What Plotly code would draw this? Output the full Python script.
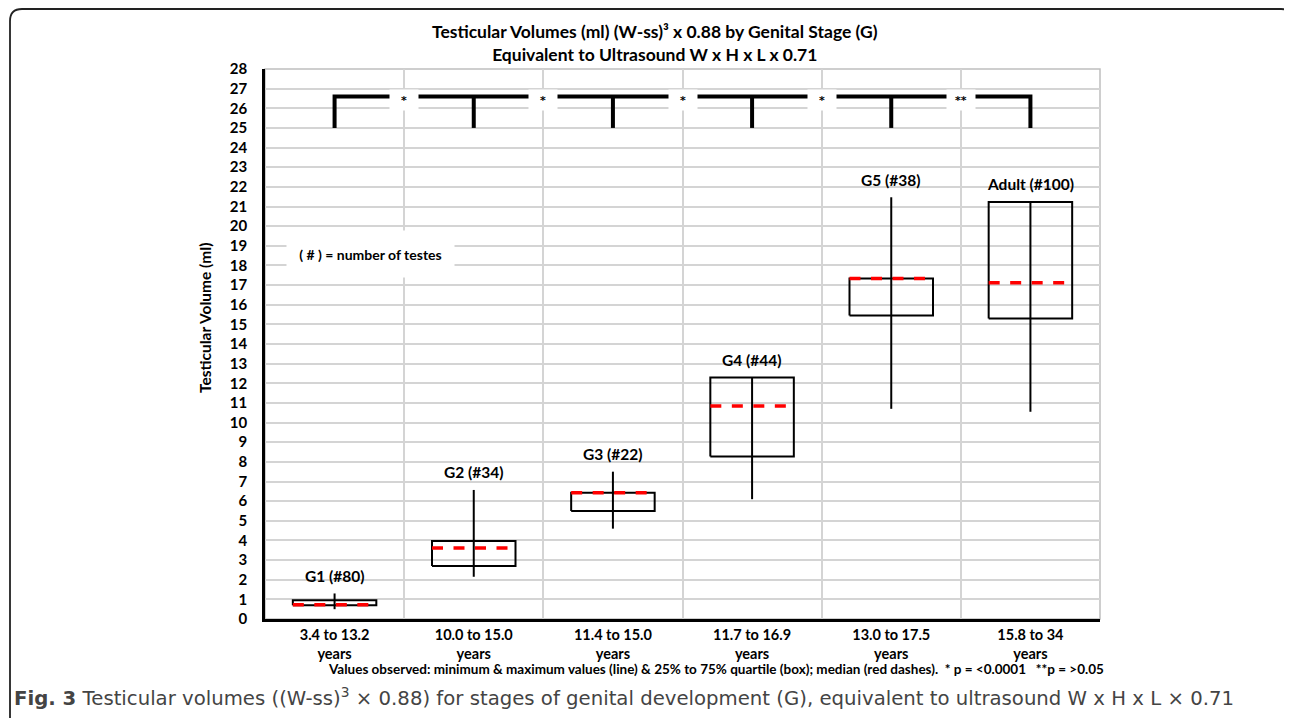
import plotly.graph_objects as go

# ---------------- data ----------------
categories = ["3.4 to 13.2<br>years", "10.0 to 15.0<br>years", "11.4 to 15.0<br>years",
              "11.7 to 16.9<br>years", "13.0 to 17.5<br>years", "15.8 to 34<br>years"]
stage_labels = ["G1 (#80)", "G2 (#34)", "G3 (#22)", "G4 (#44)", "G5 (#38)", "Adult (#100)"]
vol_min = [0.5, 2.15, 4.6, 6.1, 10.7, 10.55]
vol_q1 = [0.7, 2.7, 5.5, 8.27, 15.45, 15.3]
vol_median = [0.72, 3.62, 6.43, 10.85, 17.33, 17.12]
vol_q3 = [0.95, 3.97, 6.43, 12.3, 17.33, 21.23]
vol_max = [1.3, 6.57, 7.5, 12.3, 21.47, 21.23]
sig_labels = ["*", "*", "*", "*", "**"]
y_ticks = list(range(0, 29))

# ---------------- layout constants ----------------
OFF = 8                      # page body margin
W, H = 1292 - OFF, 718 - OFF
PLOT_L, PLOT_R, PLOT_T, PLOT_B = 265, 1100, 69, 619   # target pixels in the window
ML, MT = PLOT_L - OFF, PLOT_T - OFF
MR = W - (PLOT_R - OFF)
MB = H - (PLOT_B - OFF)
PW, PH = PLOT_R - PLOT_L, PLOT_B - PLOT_T
BOLD = "Lato"
HALF = 0.3  # half box width in category units


def px2x(p):
    return (p - PLOT_L) / PW


def py2y(p):
    return (PLOT_B - p) / PH


n = len(categories)
xs = list(range(n))

fig = go.Figure()

# boxes (quartiles)
bx, by = [], []
for i in xs:
    bx += [i - HALF, i + HALF, i + HALF, i - HALF, i - HALF, None]
    by += [vol_q1[i], vol_q1[i], vol_q3[i], vol_q3[i], vol_q1[i], None]
fig.add_trace(go.Scatter(x=bx, y=by, mode="lines", line=dict(color="black", width=2),
                         hoverinfo="skip"))

# whiskers (min-max line)
wx, wy = [], []
for i in xs:
    wx += [i, i, None]
    wy += [vol_min[i], vol_max[i], None]
fig.add_trace(go.Scatter(x=wx, y=wy, mode="lines", line=dict(color="black", width=2),
                         hoverinfo="skip"))

# medians (red dashes)
mx, my = [], []
for i in xs:
    mx += [i - HALF, i + HALF, None]
    my += [vol_median[i], vol_median[i], None]
fig.add_trace(go.Scatter(x=mx, y=my, mode="lines",
                         line=dict(color="#ff0000", width=3.5, dash="11px,10.5px"),
                         hoverinfo="skip"))

# significance bracket
B_LOW, B_TOP = 25, 26.6
sx = [xs[0], xs[0], xs[-1], xs[-1], None]
sy = [B_LOW, B_TOP, B_TOP, B_LOW, None]
for i in xs[1:-1]:
    sx += [i, i, None]
    sy += [B_LOW, B_TOP, None]
fig.add_trace(go.Scatter(x=sx, y=sy, mode="lines", line=dict(color="black", width=4),
                         hoverinfo="skip"))

annotations = []
for i, s in enumerate(sig_labels):
    annotations.append(dict(x=i + 0.5, y=B_TOP, xref="x", yref="y", text=s, showarrow=False,
                            xanchor="center", yanchor="middle", yshift=-3,
                            bgcolor="white", width=26, height=18,
                            font=dict(family="DejaVu Sans", size=11, color="black", weight="bold")))

for i, lab in enumerate(stage_labels):
    annotations.append(dict(x=i, y=vol_max[i] + 0.9, xref="x", yref="y", text=lab,
                            showarrow=False, xanchor="center", yanchor="middle",
                            font=dict(family=BOLD, size=15.5, color="black", weight="bold")))

# legend note inside plot
annotations.append(dict(x=px2x(370), y=py2y(254), xref="paper", yref="paper",
                        xanchor="center", yanchor="middle",
                        text="( # ) = number of testes", showarrow=False,
                        bgcolor="white", width=165, height=44,
                        font=dict(family=BOLD, size=14, color="black", weight="bold")))

# title
annotations.append(dict(x=px2x(655), y=py2y(43), xref="paper", yref="paper",
                        xanchor="center", yanchor="middle",
                        text="Testicular Volumes (ml) (W-ss)³ x 0.88 by Genital Stage (G)<br>"
                             "Equivalent to Ultrasound W x H x L x 0.71",
                        showarrow=False, align="center",
                        font=dict(family=BOLD, size=17.5, color="black", weight="bold")))

# y-axis title
annotations.append(dict(x=px2x(205), y=py2y(318), xref="paper", yref="paper",
                        xanchor="center", yanchor="middle",
                        text="Testicular Volume (ml)", textangle=-90, showarrow=False,
                        font=dict(family=BOLD, size=15.5, color="black", weight="bold")))

# footnote
annotations.append(dict(x=px2x(716), y=py2y(669), xref="paper", yref="paper",
                        xanchor="center", yanchor="middle",
                        text="Values observed: minimum & maximum values (line) & 25% to 75% quartile (box); "
                             "median (red dashes).  * p = <0.0001   **p = >0.05",
                        showarrow=False,
                        font=dict(family=BOLD, size=13.5, color="black", weight="bold")))

# caption
annotations.append(dict(x=px2x(12), y=py2y(697), xref="paper", yref="paper",
                        xanchor="left", yanchor="middle",
                        text="<b>Fig. 3</b> Testicular volumes ((W-ss)<sup>3</sup> × 0.88) for stages of "
                             "genital development (G), equivalent to ultrasound W x H x L × 0.71",
                        showarrow=False,
                        font=dict(family="DejaVu Sans", size=19.7, color="#444444")))

shapes = []
# gray plot border (top/right)
shapes.append(dict(type="rect", xref="paper", yref="paper", x0=0, x1=1, y0=0, y1=1,
                   line=dict(color="#bfbfbf", width=1.5), layer="below"))
# outer rounded frame (open at the bottom, right side beyond the window)
r = 12
top = 9
path = (f"M {px2x(10)} {py2y(730)} L {px2x(10)} {py2y(top + r)} "
        f"Q {px2x(10)} {py2y(top)} {px2x(10 + r)} {py2y(top)} "
        f"L {px2x(1281)} {py2y(top)} "
        f"Q {px2x(1292)} {py2y(top)} {px2x(1293)} {py2y(top + r)}")
shapes.append(dict(type="path", xref="paper", yref="paper", path=path,
                   line=dict(color="#222222", width=1.8)))

fig.update_layout(
    width=W, height=H,
    margin=dict(l=ML, r=MR, t=MT, b=MB, pad=0),
    plot_bgcolor="white", paper_bgcolor="white",
    showlegend=False,
    annotations=annotations,
    shapes=shapes,
    xaxis=dict(range=[-0.5, n - 0.5], tickmode="array", tickvals=xs, ticktext=categories,
               showgrid=False, zeroline=False, showline=True, linecolor="black", linewidth=2.5,
               ticks="", fixedrange=True, ticklabelstandoff=1,
               tickfont=dict(family=BOLD, size=14.5, color="black", weight="bold"),
               minor=dict(tickvals=[i + 0.5 for i in xs[:-1]], showgrid=True,
                          gridcolor="#d4d4d4", gridwidth=1.5, ticks="")),
    yaxis=dict(range=[0, 28], tickmode="array", tickvals=y_ticks,
               showgrid=True, gridcolor="#d4d4d4", gridwidth=1.5, zeroline=False,
               showline=True, linecolor="black", linewidth=2.5, ticks="", fixedrange=True,
               ticklabelstandoff=12,
               tickfont=dict(family=BOLD, size=15, color="black", weight="bold")),
)

fig.write_html("out.html")
